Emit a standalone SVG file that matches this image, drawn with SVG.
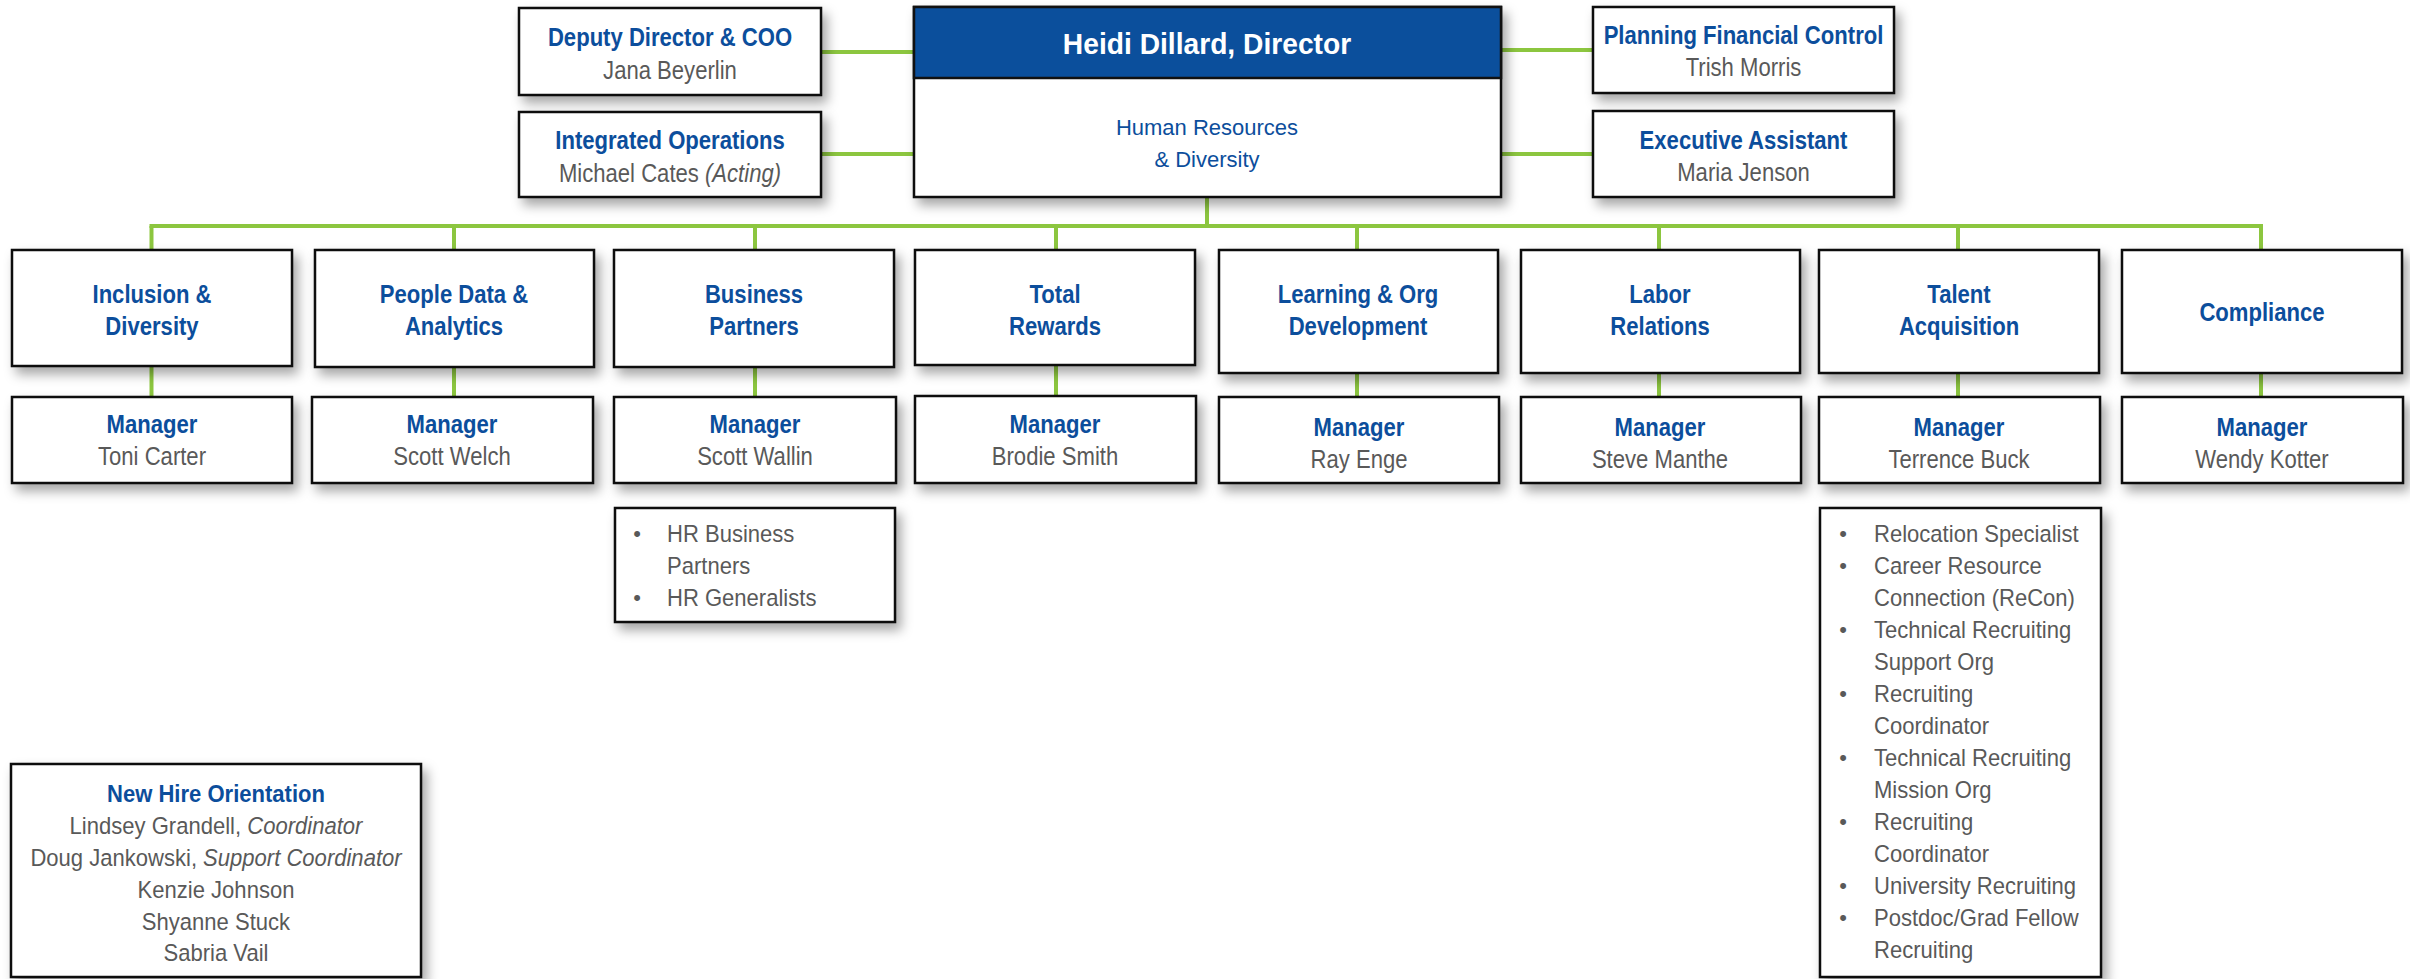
<svg xmlns="http://www.w3.org/2000/svg" width="2410" height="979" viewBox="0 0 2410 979">
<defs>
<filter id="sh" x="-10%" y="-20%" width="130%" height="150%">
<feDropShadow dx="5" dy="7" stdDeviation="6" flood-color="#000" flood-opacity="0.35"/>
</filter>
</defs>
<style>
.bx{fill:#fff;stroke:#111;stroke-width:2.5;filter:url(#sh)}
text{font-family:"Liberation Sans",Arial,sans-serif}
.t{font-size:26px;text-anchor:middle}
.b{font-weight:bold;fill:#0C4E9C}
.g{fill:#595959}
.l{font-size:24.5px;fill:#595959}
.lc{font-size:24.5px;text-anchor:middle}
.c line{stroke:#8CC63F;stroke-width:4}
</style>
<rect width="2410" height="979" fill="#fff"/>
<g class="c" id="connectors">
<line x1="821" y1="52" x2="914" y2="52"/>
<line x1="821" y1="154" x2="914" y2="154"/>
<line x1="1501" y1="50" x2="1593" y2="50"/>
<line x1="1501" y1="154" x2="1593" y2="154"/>
<line x1="1207" y1="197" x2="1207" y2="226"/>
<line x1="149.5" y1="226" x2="2263" y2="226"/>
<line x1="151.5" y1="226" x2="151.5" y2="250"/>
<line x1="454" y1="226" x2="454" y2="250"/>
<line x1="755" y1="226" x2="755" y2="250"/>
<line x1="1056" y1="226" x2="1056" y2="250"/>
<line x1="1357" y1="226" x2="1357" y2="250"/>
<line x1="1659" y1="226" x2="1659" y2="250"/>
<line x1="1958" y1="226" x2="1958" y2="250"/>
<line x1="2261" y1="226" x2="2261" y2="250"/>
<line x1="151.5" y1="366" x2="151.5" y2="397"/>
<line x1="454" y1="366" x2="454" y2="397"/>
<line x1="755" y1="366" x2="755" y2="397"/>
<line x1="1056" y1="365" x2="1056" y2="397"/>
<line x1="1357" y1="373" x2="1357" y2="397"/>
<line x1="1659" y1="373" x2="1659" y2="397"/>
<line x1="1958" y1="373" x2="1958" y2="397"/>
<line x1="2261" y1="373" x2="2261" y2="397"/>
</g>

<g id="director">
<rect class="bx" x="914" y="7" width="587" height="190"/>
<rect x="914" y="7" width="587" height="71" fill="#0B4F9C" stroke="#111" stroke-width="2.5"/>
<g transform="translate(1207 0) scale(0.94 1)">
<text x="0" y="54" text-anchor="middle" style="font-size:30px;font-weight:bold;fill:#fff">Heidi Dillard, Director</text>
</g>
<text x="1207" y="135" text-anchor="middle" style="font-size:22px;fill:#0C4E9C">Human Resources</text>
<text x="1207" y="167" text-anchor="middle" style="font-size:22px;fill:#0C4E9C">&amp; Diversity</text>
</g>
<g id="deputy">
<rect class="bx" x="519" y="8" width="302" height="87"/>
<g transform="translate(670 0) scale(0.85 1)">
<text class="t b" x="0" y="46">Deputy Director &amp; COO</text>
<text class="t g" x="0" y="79">Jana Beyerlin</text>
</g>
</g>
<g id="integrated">
<rect class="bx" x="519" y="112" width="302" height="85"/>
<g transform="translate(670 0) scale(0.85 1)">
<text class="t b" x="0" y="149">Integrated Operations</text>
<text class="t g" x="0" y="182">Michael Cates <tspan font-style="italic">(Acting)</tspan></text>
</g>
</g>
<g id="planning">
<rect class="bx" x="1593" y="7" width="301" height="86"/>
<g transform="translate(1743.5 0) scale(0.85 1)">
<text class="t b" x="0" y="44">Planning Financial Control</text>
<text class="t g" x="0" y="76">Trish Morris</text>
</g>
</g>
<g id="exec">
<rect class="bx" x="1593" y="111" width="301" height="86"/>
<g transform="translate(1743.5 0) scale(0.85 1)">
<text class="t b" x="0" y="149">Executive Assistant</text>
<text class="t g" x="0" y="181">Maria Jenson</text>
</g>
</g>

<g id="inclusion">
<rect class="bx" x="12" y="250" width="280" height="116"/>
<g transform="translate(152 0) scale(0.85 1)">
<text class="t b" x="0" y="303">Inclusion &amp;</text>
<text class="t b" x="0" y="335">Diversity</text>
</g>
</g>
<g id="peopledata">
<rect class="bx" x="315" y="250" width="279" height="117"/>
<g transform="translate(454 0) scale(0.85 1)">
<text class="t b" x="0" y="303">People Data &amp;</text>
<text class="t b" x="0" y="335">Analytics</text>
</g>
</g>
<g id="business">
<rect class="bx" x="614" y="250" width="280" height="117"/>
<g transform="translate(754 0) scale(0.85 1)">
<text class="t b" x="0" y="303">Business</text>
<text class="t b" x="0" y="335">Partners</text>
</g>
</g>
<g id="rewards">
<rect class="bx" x="915" y="250" width="280" height="115"/>
<g transform="translate(1055 0) scale(0.85 1)">
<text class="t b" x="0" y="303">Total</text>
<text class="t b" x="0" y="335">Rewards</text>
</g>
</g>
<g id="learning">
<rect class="bx" x="1219" y="250" width="279" height="123"/>
<g transform="translate(1358 0) scale(0.85 1)">
<text class="t b" x="0" y="303">Learning &amp; Org</text>
<text class="t b" x="0" y="335">Development</text>
</g>
</g>
<g id="labor">
<rect class="bx" x="1521" y="250" width="279" height="123"/>
<g transform="translate(1660 0) scale(0.85 1)">
<text class="t b" x="0" y="303">Labor</text>
<text class="t b" x="0" y="335">Relations</text>
</g>
</g>
<g id="talent">
<rect class="bx" x="1819" y="250" width="280" height="123"/>
<g transform="translate(1959 0) scale(0.85 1)">
<text class="t b" x="0" y="303">Talent</text>
<text class="t b" x="0" y="335">Acquisition</text>
</g>
</g>
<g id="compliance">
<rect class="bx" x="2122" y="250" width="280" height="123"/>
<g transform="translate(2262 0) scale(0.85 1)">
<text class="t b" x="0" y="321">Compliance</text>
</g>
</g>

<g id="mgr1">
<rect class="bx" x="12" y="397" width="280" height="86"/>
<g transform="translate(152 0) scale(0.85 1)">
<text class="t b" x="0" y="433">Manager</text>
<text class="t g" x="0" y="465">Toni Carter</text>
</g>
</g>
<g id="mgr2">
<rect class="bx" x="312" y="397" width="281" height="86"/>
<g transform="translate(452 0) scale(0.85 1)">
<text class="t b" x="0" y="433">Manager</text>
<text class="t g" x="0" y="465">Scott Welch</text>
</g>
</g>
<g id="mgr3">
<rect class="bx" x="614" y="397" width="282" height="86"/>
<g transform="translate(755 0) scale(0.85 1)">
<text class="t b" x="0" y="433">Manager</text>
<text class="t g" x="0" y="465">Scott Wallin</text>
</g>
</g>
<g id="mgr4">
<rect class="bx" x="915" y="396" width="281" height="87"/>
<g transform="translate(1055 0) scale(0.85 1)">
<text class="t b" x="0" y="433">Manager</text>
<text class="t g" x="0" y="465">Brodie Smith</text>
</g>
</g>
<g id="mgr5">
<rect class="bx" x="1219" y="397" width="280" height="86"/>
<g transform="translate(1359 0) scale(0.85 1)">
<text class="t b" x="0" y="436">Manager</text>
<text class="t g" x="0" y="468">Ray Enge</text>
</g>
</g>
<g id="mgr6">
<rect class="bx" x="1521" y="397" width="280" height="86"/>
<g transform="translate(1660 0) scale(0.85 1)">
<text class="t b" x="0" y="436">Manager</text>
<text class="t g" x="0" y="468">Steve Manthe</text>
</g>
</g>
<g id="mgr7">
<rect class="bx" x="1819" y="397" width="281" height="86"/>
<g transform="translate(1959 0) scale(0.85 1)">
<text class="t b" x="0" y="436">Manager</text>
<text class="t g" x="0" y="468">Terrence Buck</text>
</g>
</g>
<g id="mgr8">
<rect class="bx" x="2122" y="397" width="281" height="86"/>
<g transform="translate(2262 0) scale(0.85 1)">
<text class="t b" x="0" y="436">Manager</text>
<text class="t g" x="0" y="468">Wendy Kotter</text>
</g>
</g>

<g id="bp-list">
<rect class="bx" x="615" y="508" width="280" height="114"/>
<text class="l" x="637" y="541" text-anchor="middle" style="font-size:22px">•</text>
<text class="l" x="637" y="605" text-anchor="middle" style="font-size:22px">•</text>
<g transform="translate(667 0) scale(0.9 1)">
<text class="l" x="0" y="542">HR Business</text>
<text class="l" x="0" y="574">Partners</text>
<text class="l" x="0" y="606">HR Generalists</text>
</g>
</g>

<g id="ta-list">
<rect class="bx" x="1820" y="508" width="281" height="469"/>
<g class="l" text-anchor="middle" style="font-size:22px">
<text x="1843" y="541">•</text>
<text x="1843" y="573">•</text>
<text x="1843" y="637">•</text>
<text x="1843" y="701">•</text>
<text x="1843" y="765">•</text>
<text x="1843" y="829">•</text>
<text x="1843" y="893">•</text>
<text x="1843" y="925">•</text>
</g>
<g transform="translate(1874 0) scale(0.9 1)">
<text class="l" x="0" y="542">Relocation Specialist</text>
<text class="l" x="0" y="574">Career Resource</text>
<text class="l" x="0" y="606">Connection (ReCon)</text>
<text class="l" x="0" y="638">Technical Recruiting</text>
<text class="l" x="0" y="670">Support Org</text>
<text class="l" x="0" y="702">Recruiting</text>
<text class="l" x="0" y="734">Coordinator</text>
<text class="l" x="0" y="766">Technical Recruiting</text>
<text class="l" x="0" y="798">Mission Org</text>
<text class="l" x="0" y="830">Recruiting</text>
<text class="l" x="0" y="862">Coordinator</text>
<text class="l" x="0" y="894">University Recruiting</text>
<text class="l" x="0" y="926">Postdoc/Grad Fellow</text>
<text class="l" x="0" y="958">Recruiting</text>
</g>
</g>

<g id="newhire">
<rect class="bx" x="11" y="764" width="410" height="213"/>
<g transform="translate(216 0) scale(0.9 1)">
<text class="lc b" x="0" y="802">New Hire Orientation</text>
<text class="lc g" x="0" y="834">Lindsey Grandell, <tspan font-style="italic">Coordinator</tspan></text>
<text class="lc g" x="0" y="866">Doug Jankowski, <tspan font-style="italic">Support Coordinator</tspan></text>
<text class="lc g" x="0" y="898">Kenzie Johnson</text>
<text class="lc g" x="0" y="930">Shyanne Stuck</text>
<text class="lc g" x="0" y="961">Sabria Vail</text>
</g>
</g>
</svg>
